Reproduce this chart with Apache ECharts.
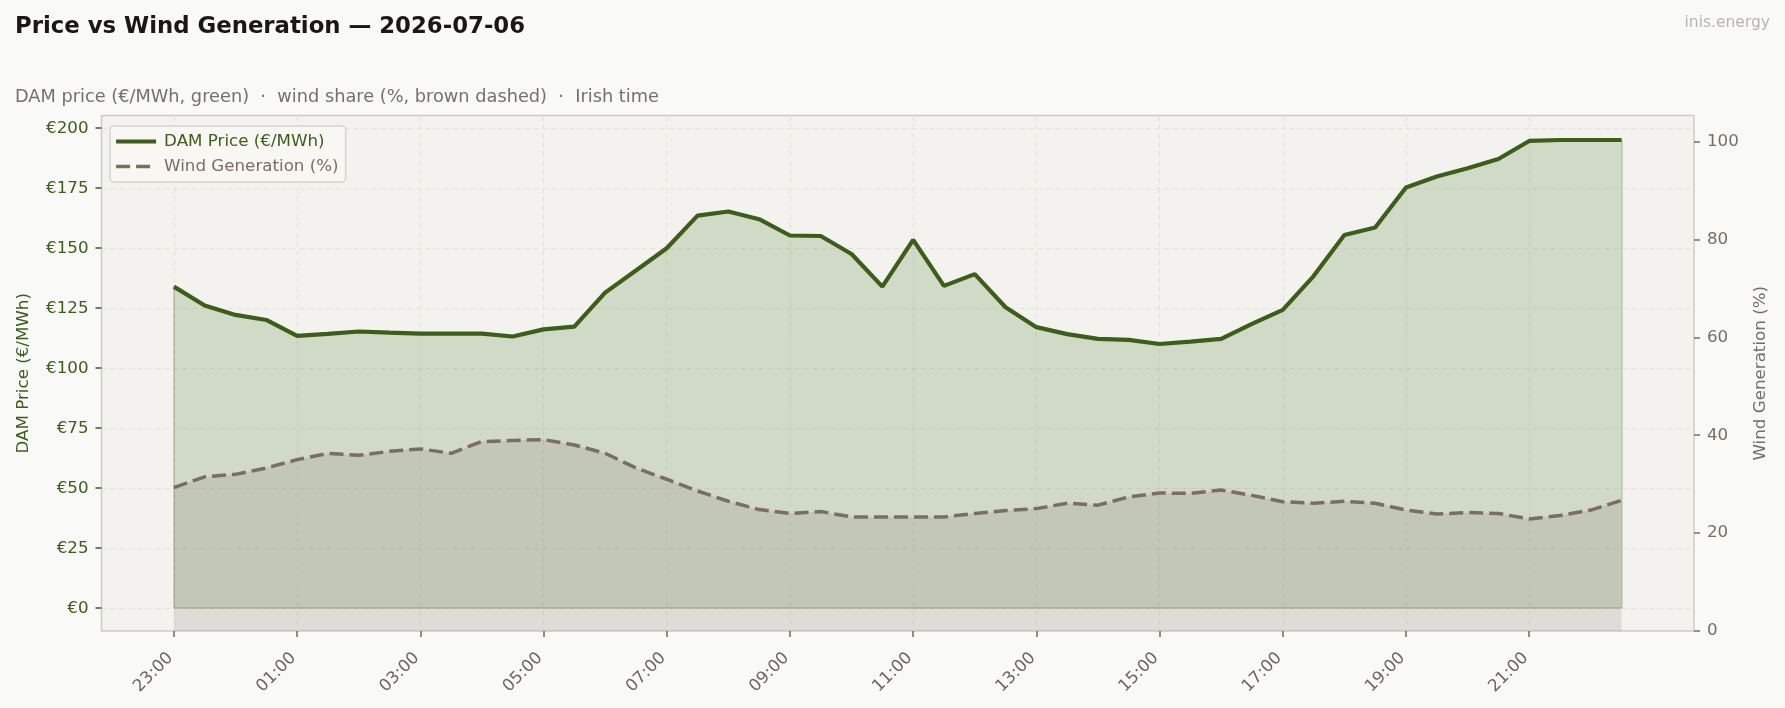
<!DOCTYPE html>
<html>
<head>
<meta charset="utf-8">
<title>Price vs Wind Generation</title>
<script src="https://cdn.jsdelivr.net/npm/echarts@6/dist/echarts.min.js"></script>
<style>
  html, body { margin: 0; padding: 0; background: #f9f9f7; }
  #chart { width: 1785px; height: 708px; }
</style>
</head>
<body>
<div id="chart"></div>
<script>
const times = [
  '23:00', '23:30', '00:00', '00:30', '01:00', '01:30', '02:00', '02:30',
  '03:00', '03:30', '04:00', '04:30', '05:00', '05:30', '06:00', '06:30',
  '07:00', '07:30', '08:00', '08:30', '09:00', '09:30', '10:00', '10:30',
  '11:00', '11:30', '12:00', '12:30', '13:00', '13:30', '14:00', '14:30',
  '15:00', '15:30', '16:00', '16:30', '17:00', '17:30', '18:00', '18:30',
  '19:00', '19:30', '20:00', '20:30', '21:00', '21:30', '22:00', '22:30'
];

// DAM price, €/MWh
const price = [
  134.0, 126.1, 122.2, 120.1, 113.5, 114.3, 115.3, 114.8,
  114.4, 114.4, 114.4, 113.2, 116.2, 117.3, 131.5, 140.7,
  150.0, 163.6, 165.3, 162.1, 155.3, 155.1, 147.6, 134.0,
  153.5, 134.3, 139.2, 125.4, 117.1, 114.2, 112.2, 111.8,
  110.1, 111.1, 112.2, 118.5, 124.3, 138.4, 155.5, 158.6,
  175.3, 179.9, 183.3, 187.2, 194.7, 195.1, 195.1, 195.1
];

// wind share of generation, %
const wind = [
  29.3, 31.5, 32.0, 33.3, 35.0, 36.3, 35.9, 36.7,
  37.2, 36.3, 38.7, 38.9, 39.1, 38.0, 36.3, 33.3,
  31.0, 28.6, 26.5, 24.8, 24.0, 24.4, 23.3, 23.3,
  23.3, 23.3, 24.0, 24.6, 25.0, 26.1, 25.7, 27.4,
  28.2, 28.1, 28.8, 27.7, 26.4, 26.1, 26.5, 26.1,
  24.7, 23.9, 24.2, 24.0, 22.9, 23.6, 24.7, 26.7
];

const priceTicks = [0, 25, 50, 75, 100, 125, 150, 175, 200];
const windTicks = [0, 20, 40, 60, 80, 100];
const timeTicks = ['23:00', '01:00', '03:00', '05:00', '07:00', '09:00',
  '11:00', '13:00', '15:00', '17:00', '19:00', '21:00'];

const FONT = 'DejaVu Sans';
const FS = 16.7;
const GREEN = '#3b5e18';
const BROWN = '#7b6d61';
const GREY = '#6b6560';
const GRID = '#e3e0da';

// x positions are hours after the first half-hour slot
const hourAt = (i) => i * 0.5;
const timeTickHours = timeTicks.map((t) => hourAt(times.indexOf(t)));
const last = times.length - 1;
const span = hourAt(last);
const pad = span * 0.05;

// faint outline round the price fill, like a fill_between edge
const priceEdges = [
  [{ coord: [0, 0] }, { coord: [0, price[0]] }],
  [{ coord: [span, 0] }, { coord: [span, price[last]] }],
  [{ coord: [0, 0] }, { coord: [span, 0] }]
];

const chart = echarts.init(document.getElementById('chart'));

chart.setOption({
  backgroundColor: '#f9f9f7',
  animation: false,
  textStyle: { fontFamily: FONT },
  title: [
    {
      text: 'Price vs Wind Generation — 2026-07-06',
      left: 15, top: 16, padding: 0,
      textStyle: { fontFamily: FONT, fontSize: 22.8, fontWeight: 'bold', color: '#1a1816' }
    },
    {
      text: 'DAM price (€/MWh, green)  ·  wind share (%, brown dashed)  ·  Irish time',
      left: 15, top: 88, padding: 0,
      textStyle: { fontFamily: FONT, fontSize: 17.75, fontWeight: 'normal', color: '#77706a' }
    },
    {
      text: 'inis.energy',
      right: 15, top: 15, padding: 0,
      textStyle: { fontFamily: FONT, fontSize: 15.5, fontWeight: 'normal', color: '#b8b5b0' }
    }
  ],
  legend: {
    orient: 'vertical',
    left: 110, top: 126,
    padding: [7, 7, 7, 4],
    itemWidth: 40, itemHeight: 14, itemGap: 8,
    backgroundColor: 'rgba(248,247,244,0.92)',
    borderColor: '#d6d3cd', borderWidth: 1.5, borderRadius: 4,
    // line only, no marker in the key
    itemStyle: { opacity: 0 },
    textStyle: { fontFamily: FONT, fontSize: FS, padding: [0, 0, 0, 3] },
    data: [
      { name: 'DAM Price (€/MWh)', textStyle: { color: GREEN }, lineStyle: { width: 4.2 } },
      { name: 'Wind Generation (%)', textStyle: { color: BROWN }, lineStyle: { width: 3.5 } }
    ]
  },
  grid: {
    left: 101.5, top: 115.5, width: 1592.5, height: 515.5,
    show: true, backgroundColor: '#f3f2ef',
    borderColor: '#cfcac3', borderWidth: 1.5
  },
  xAxis: {
    type: 'value',
    min: -pad, max: span + pad,
    axisLine: { show: false, onZero: false },
    axisTick: {
      customValues: timeTickHours, length: 6,
      lineStyle: { color: GREY, width: 1.5 }
    },
    axisLabel: {
      customValues: timeTickHours,
      formatter: (v) => times[Math.round(v * 2)],
      rotate: 45, margin: 21, padding: [0, 5, 0, 0],
      fontFamily: FONT, fontSize: FS, color: GREY
    },
    splitLine: {
      show: true,
      lineStyle: { color: GRID, type: [5, 4], width: 1 }
    }
  },
  yAxis: [
    {
      type: 'value', position: 'left',
      min: -9.5, max: 205.3,
      name: 'DAM Price (€/MWh)', nameLocation: 'middle', nameRotate: 90, nameGap: 69,
      nameTextStyle: { fontFamily: FONT, fontSize: FS, color: GREEN },
      axisLine: { show: false, onZero: false },
      axisTick: {
        show: true, customValues: priceTicks, length: 6,
        lineStyle: { color: GREEN, width: 1.5 }
      },
      axisLabel: {
        customValues: priceTicks,
        formatter: (v) => '€' + v,
        margin: 13,
        fontFamily: FONT, fontSize: FS, color: GREEN
      },
      splitLine: {
        show: true,
        lineStyle: { color: GRID, type: [5, 4], width: 1 }
      }
    },
    {
      type: 'value', position: 'right',
      min: 0, max: 105.3,
      name: 'Wind Generation (%)', nameLocation: 'middle', nameRotate: 90, nameGap: 58,
      nameTextStyle: { fontFamily: FONT, fontSize: FS, color: BROWN },
      axisLine: { show: false, onZero: false },
      axisTick: {
        show: true, customValues: windTicks, length: 6,
        lineStyle: { color: BROWN, width: 1.5 }
      },
      axisLabel: {
        customValues: windTicks,
        margin: 13,
        fontFamily: FONT, fontSize: FS, color: BROWN
      },
      splitLine: { show: false }
    }
  ],
  series: [
    {
      name: 'DAM Price (€/MWh)',
      type: 'line',
      yAxisIndex: 0,
      data: price.map((v, i) => [hourAt(i), v]),
      symbol: 'none',
      lineStyle: { color: GREEN, width: 4.2 },
      itemStyle: { color: GREEN },
      areaStyle: { color: 'rgba(74,124,35,0.2)', opacity: 1, origin: 'auto' },
      markLine: {
        silent: true,
        symbol: 'none',
        label: { show: false },
        lineStyle: { color: 'rgba(74,124,35,0.3)', width: 1.5, type: 'solid' },
        data: priceEdges
      },
      z: 3
    },
    {
      name: 'Wind Generation (%)',
      type: 'line',
      yAxisIndex: 1,
      data: wind.map((v, i) => [hourAt(i), v]),
      symbol: 'none',
      lineStyle: { color: BROWN, width: 3.5, type: [14, 6] },
      itemStyle: { color: BROWN },
      areaStyle: { color: 'rgba(123,109,97,0.165)', opacity: 1, origin: 'auto' },
      z: 4
    }
  ]
});
</script>
</body>
</html>
